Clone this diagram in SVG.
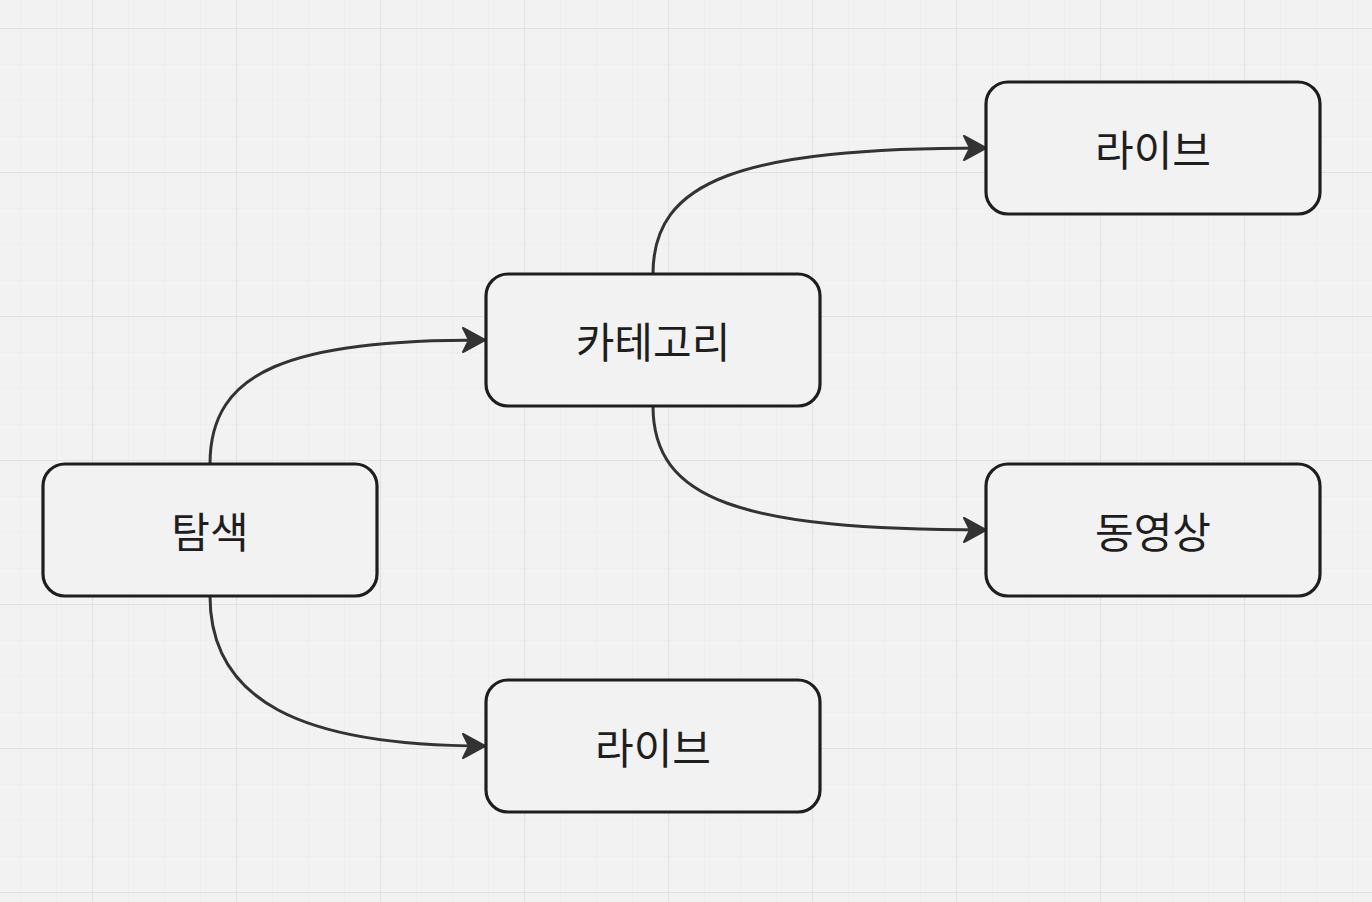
<svg xmlns="http://www.w3.org/2000/svg" width="1372" height="902" viewBox="0 0 1372 902">
<defs>
<pattern id="minor" x="20" y="28" width="36" height="36" patternUnits="userSpaceOnUse">
<path d="M0 0H36M0 0V36" fill="none" stroke="#eaeaea" stroke-width="1.2"/>
</pattern>
<pattern id="major" x="92" y="28" width="144" height="144" patternUnits="userSpaceOnUse">
<path d="M0 0H144M0 0V144" fill="none" stroke="#e1e1e1" stroke-width="2"/>
</pattern>
<marker id="arr" markerUnits="userSpaceOnUse" viewBox="0 0 26 28" markerWidth="26" markerHeight="28" refX="24" refY="14" orient="auto">
<path d="M2 2 L24 14 L2 26 L8 14 Z" fill="#333" stroke="#333" stroke-width="2" stroke-linejoin="round"/>
</marker>
</defs>
<style>
.node rect{fill:#f2f2f2;stroke:#1e1e1e;stroke-width:3.2}
.node text{font-family:"Noto Sans CJK KR","Noto Sans",sans-serif;font-size:42px;font-weight:400;fill:#1e1e1e;text-anchor:middle;dominant-baseline:central}
.edge{fill:none;stroke:#333;stroke-width:3;marker-end:url(#arr)}
</style>
<rect width="1372" height="902" fill="#f2f2f2"/>
<rect width="1372" height="902" fill="url(#minor)"/>
<rect width="1372" height="902" fill="url(#major)"/>
<g id="connectors">
<path class="edge" d="M210 464 C210 370 290 340 485 340"/>
<path class="edge" d="M210 596 C210 700 300 746 485 746"/>
<path class="edge" d="M653 274 C653 180 740 148 986 148"/>
<path class="edge" d="M653 406 C653 500 740 530 986 530"/>
</g>
<g id="node-explore" class="node">
<rect x="43" y="464" width="334" height="132" rx="22"/>
<text x="210" y="529">탐색</text>
</g>
<g id="node-category" class="node">
<rect x="486" y="274" width="334" height="132" rx="22"/>
<text x="653" y="339">카테고리</text>
</g>
<g id="node-live-top" class="node">
<rect x="986" y="82" width="334" height="132" rx="22"/>
<text x="1153" y="147">라이브</text>
</g>
<g id="node-video" class="node">
<rect x="986" y="464" width="334" height="132" rx="22"/>
<text x="1153" y="529">동영상</text>
</g>
<g id="node-live-bottom" class="node">
<rect x="486" y="680" width="334" height="132" rx="22"/>
<text x="653" y="745">라이브</text>
</g>
</svg>
